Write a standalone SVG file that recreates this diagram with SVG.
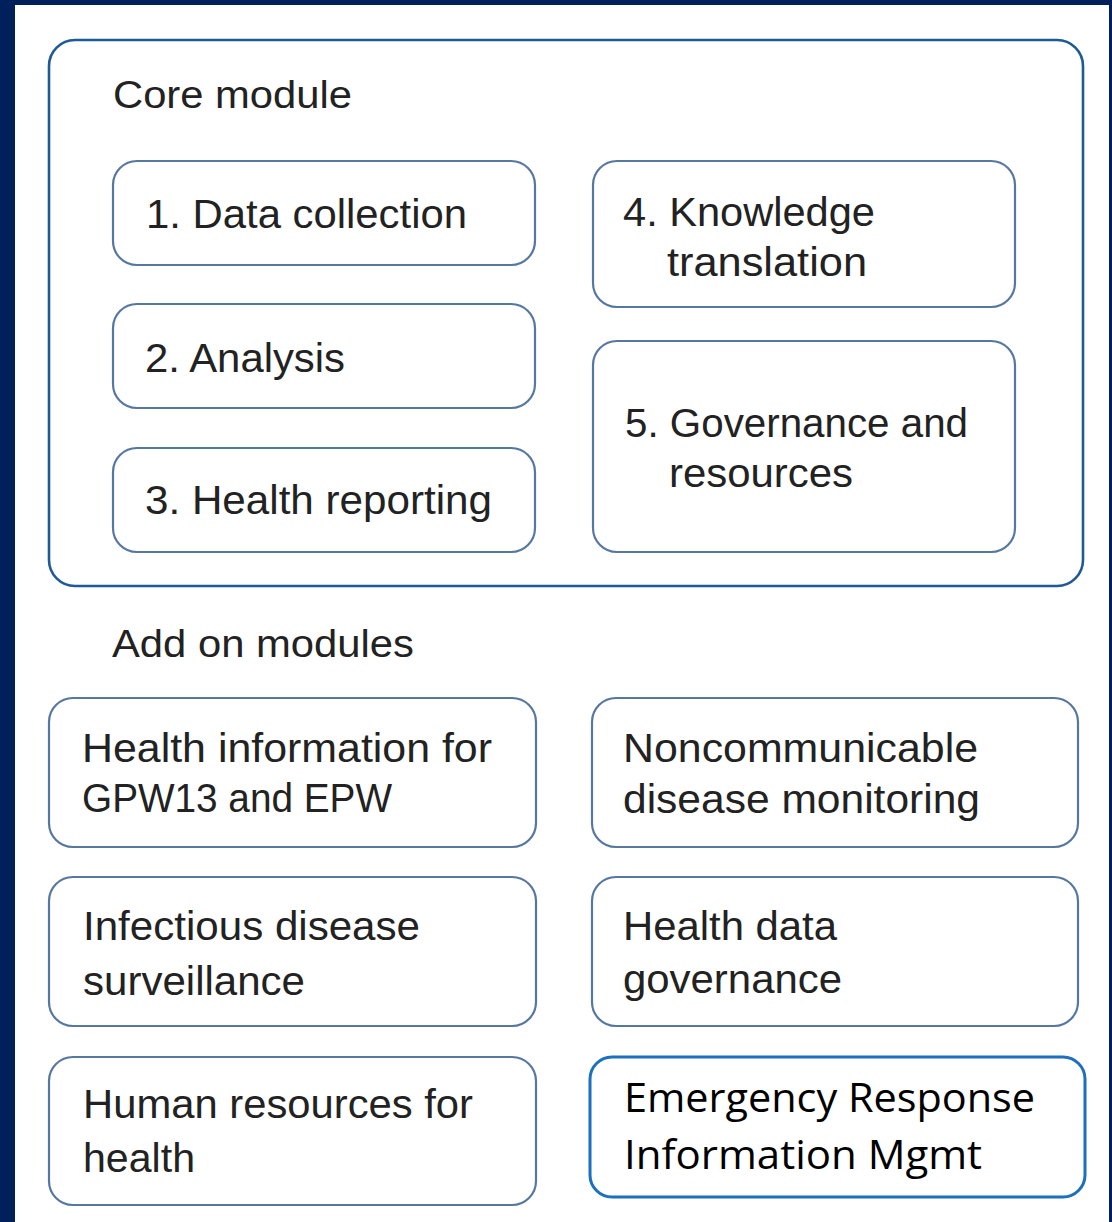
<svg xmlns="http://www.w3.org/2000/svg" width="1112" height="1222" viewBox="0 0 1112 1222">
  <style>
    .frame { fill: #00205B; }
    .panel { fill: #FFFFFF; }
    .core { fill: none; stroke: #1F5A96; stroke-width: 2.6; }
    .box { fill: #FFFFFF; stroke: #5677A0; stroke-width: 2.2; }
    .box-em { fill: #FFFFFF; stroke: #1D6FBF; stroke-width: 3; }
    .head { font-family: "Liberation Sans", Arial, sans-serif; font-size: 38px; fill: #222222; }
    .lbl { font-family: "Liberation Sans", Arial, sans-serif; font-size: 40px; fill: #222222; }
    .lbl-em { font-family: "Open Sans", "Liberation Sans", sans-serif; font-size: 40px; fill: #000000; }
  </style>

  <!-- navy frame with white panel -->
  <rect class="frame" x="0" y="0" width="1112" height="1222"/>
  <rect class="panel" x="15" y="5" width="1094" height="1217"/>

  <!-- core module container -->
  <g id="core-module">
    <rect class="core" x="49" y="40" width="1034" height="546" rx="26" ry="26"/>
    <text class="head" x="113" y="108" textLength="239" lengthAdjust="spacingAndGlyphs">Core module</text>
  </g>

  <g id="data-collection">
    <rect class="box" x="113" y="161" width="422" height="104" rx="24" ry="24"/>
    <text class="lbl" x="146" y="228" textLength="321" lengthAdjust="spacingAndGlyphs">1. Data collection</text>
  </g>

  <g id="analysis">
    <rect class="box" x="113" y="304" width="422" height="104" rx="24" ry="24"/>
    <text class="lbl" x="145" y="372" textLength="200" lengthAdjust="spacingAndGlyphs">2. Analysis</text>
  </g>

  <g id="health-reporting">
    <rect class="box" x="113" y="448" width="422" height="104" rx="24" ry="24"/>
    <text class="lbl" x="145" y="514" textLength="347" lengthAdjust="spacingAndGlyphs">3. Health reporting</text>
  </g>

  <g id="knowledge-translation">
    <rect class="box" x="593" y="161" width="422" height="146" rx="24" ry="24"/>
    <text class="lbl" x="623" y="226" textLength="252" lengthAdjust="spacingAndGlyphs">4. Knowledge</text>
    <text class="lbl" x="667" y="276" textLength="200" lengthAdjust="spacingAndGlyphs">translation</text>
  </g>

  <g id="governance-resources">
    <rect class="box" x="593" y="341" width="422" height="211" rx="24" ry="24"/>
    <text class="lbl" x="625" y="437" textLength="343" lengthAdjust="spacingAndGlyphs">5. Governance and</text>
    <text class="lbl" x="669" y="487" textLength="184" lengthAdjust="spacingAndGlyphs">resources</text>
  </g>

  <!-- add-on modules -->
  <text id="add-on-heading" class="head" x="112" y="657" textLength="302" lengthAdjust="spacingAndGlyphs">Add on modules</text>

  <g id="gpw13-epw">
    <rect class="box" x="49" y="698" width="487" height="149" rx="24" ry="24"/>
    <text class="lbl" x="82" y="762" textLength="410" lengthAdjust="spacingAndGlyphs">Health information for</text>
    <text class="lbl" x="82" y="812" textLength="310" lengthAdjust="spacingAndGlyphs">GPW13 and EPW</text>
  </g>

  <g id="ncd-monitoring">
    <rect class="box" x="592" y="698" width="486" height="149" rx="24" ry="24"/>
    <text class="lbl" x="623" y="762" textLength="355" lengthAdjust="spacingAndGlyphs">Noncommunicable</text>
    <text class="lbl" x="623" y="813" textLength="357" lengthAdjust="spacingAndGlyphs">disease monitoring</text>
  </g>

  <g id="infectious-disease">
    <rect class="box" x="49" y="877" width="487" height="149" rx="24" ry="24"/>
    <text class="lbl" x="83" y="940" textLength="337" lengthAdjust="spacingAndGlyphs">Infectious disease</text>
    <text class="lbl" x="83" y="995" textLength="222" lengthAdjust="spacingAndGlyphs">surveillance</text>
  </g>

  <g id="health-data-governance">
    <rect class="box" x="592" y="877" width="486" height="149" rx="24" ry="24"/>
    <text class="lbl" x="623" y="940" textLength="214" lengthAdjust="spacingAndGlyphs">Health data</text>
    <text class="lbl" x="623" y="993" textLength="219" lengthAdjust="spacingAndGlyphs">governance</text>
  </g>

  <g id="human-resources">
    <rect class="box" x="49" y="1057" width="487" height="148" rx="24" ry="24"/>
    <text class="lbl" x="83" y="1118" textLength="390" lengthAdjust="spacingAndGlyphs">Human resources for</text>
    <text class="lbl" x="83" y="1172" textLength="112" lengthAdjust="spacingAndGlyphs">health</text>
  </g>

  <g id="emergency-response">
    <rect class="box-em" x="590" y="1057" width="495" height="140" rx="22" ry="22"/>
    <text class="lbl-em" x="624" y="1112" textLength="411" lengthAdjust="spacingAndGlyphs">Emergency Response</text>
    <text class="lbl-em" x="624" y="1169" textLength="358" lengthAdjust="spacingAndGlyphs">Information Mgmt</text>
  </g>

  <!-- no connectors in this layout -->
  <g id="connectors"/>
</svg>
